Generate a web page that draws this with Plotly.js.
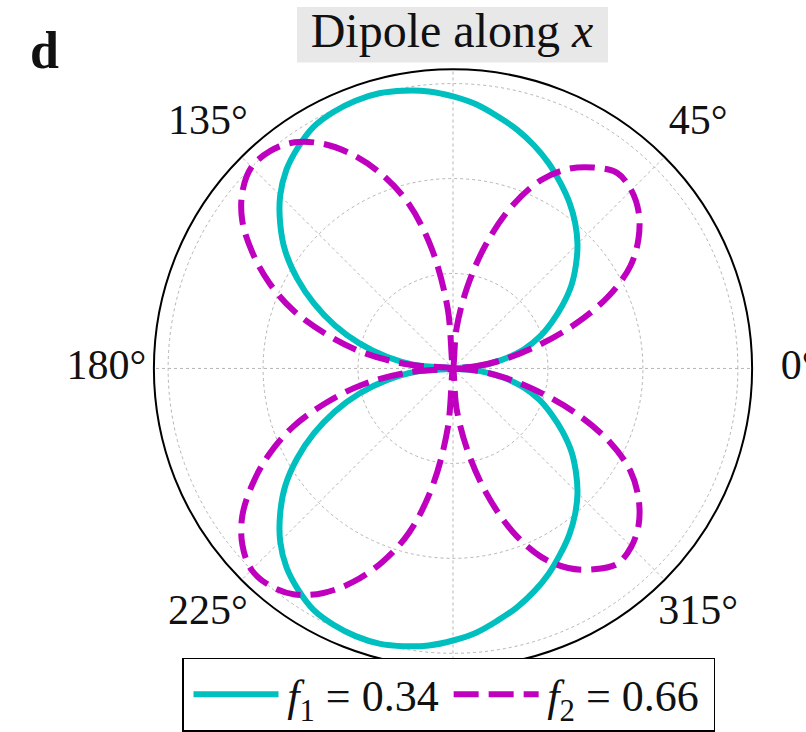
<!DOCTYPE html>
<html>
<head>
<meta charset="utf-8">
<script src="https://cdn.plot.ly/plotly-3.0.1.min.js"></script>
<style>
  html, body { margin: 0; padding: 0; background: #ffffff; }
  #plot { width: 806px; height: 732px; }
</style>
</head>
<body>
<div id="plot"></div>
<script>
// Polar angle in degrees, counter-clockwise from the +x direction
const thetaDeg = [
  0, 5, 10, 15, 20, 25, 30, 35, 40, 45, 50, 55, 60, 65, 70, 75, 80, 85,
  90, 95, 100, 105, 110, 115, 120, 125, 130, 135, 140, 145, 150, 155, 160, 165, 170, 175,
  180, 185, 190, 195, 200, 205, 210, 215, 220, 225, 230, 235, 240, 245, 250, 255, 260, 265,
  270, 275, 280, 285, 290, 295, 300, 305, 310, 315, 320, 325, 330, 335, 340, 345, 350, 355,
  360
];

// Normalised emission pattern, fraction f1
const patternF1 = [
  0.000, 0.087, 0.174, 0.257, 0.323, 0.382, 0.444, 0.507, 0.563, 0.618, 0.667, 0.712, 0.753, 0.795, 0.833, 0.868, 0.899, 0.931,
  0.955, 0.976, 0.990, 1.000, 1.000, 0.993, 0.979, 0.948, 0.910, 0.858, 0.792, 0.719, 0.632, 0.538, 0.441, 0.340, 0.236, 0.132,
  0.000, 0.132, 0.236, 0.340, 0.441, 0.538, 0.632, 0.719, 0.792, 0.858, 0.910, 0.948, 0.979, 0.993, 1.000, 1.000, 0.990, 0.976,
  0.955, 0.931, 0.899, 0.868, 0.833, 0.795, 0.753, 0.712, 0.667, 0.618, 0.563, 0.507, 0.444, 0.382, 0.323, 0.257, 0.174, 0.087,
  0.000
];

// Normalised emission pattern, fraction f2
const patternF2 = [
  0.000, 0.076, 0.181, 0.306, 0.458, 0.604, 0.719, 0.795, 0.851, 0.885, 0.896, 0.861, 0.809, 0.729, 0.608, 0.455, 0.292, 0.139,
  0.000, 0.208, 0.424, 0.597, 0.722, 0.826, 0.910, 0.969, 0.997, 1.000, 0.965, 0.903, 0.813, 0.712, 0.597, 0.458, 0.319, 0.156,
  0.000, 0.156, 0.319, 0.458, 0.597, 0.712, 0.813, 0.903, 0.965, 1.000, 0.997, 0.969, 0.910, 0.826, 0.722, 0.597, 0.424, 0.208,
  0.000, 0.139, 0.292, 0.455, 0.608, 0.729, 0.809, 0.861, 0.896, 0.885, 0.851, 0.795, 0.719, 0.604, 0.458, 0.306, 0.181, 0.076,
  0.000
];

const seriesNames = ['\u200A<i>f</i><sub>1</sub> = 0.34', '\u200A<i>f</i><sub>2</sub> = 0.66\u2009'];

// Angular tick labels (90° and 270° sit under the title and the legend)
const angleTicks = [0, 45, 90, 135, 180, 225, 270, 315];
const labelAngles = [0, 45, 135, 180, 225, 315];
const labelText = ['0°', '45°', '135°', '180°', '225°', '315°'];
const radialGrid = [1 / 3, 2 / 3, 1];

const serif = '"Liberation Serif", "Times New Roman", serif';
const W = 806, H = 732;
const cx = 453, cy = 372;
const R = 302;       // rim of the pattern plot
const RL = 350;      // ring on which the angular labels are centred
const rMax = 1.05;

function domainFor(radius) {
  return {
    x: [(cx - radius) / W, (cx + radius) / W],
    y: [(H - cy - radius) / H, (H - cy + radius) / H]
  };
}

const traces = [
  {
    type: 'scatterpolar',
    subplot: 'polar',
    mode: 'lines',
    name: seriesNames[0],
    theta: thetaDeg,
    r: patternF1,
    line: { color: '#00bfbf', width: 6, shape: 'spline', smoothing: 1 },
    hoverinfo: 'skip'
  },
  {
    type: 'scatterpolar',
    subplot: 'polar',
    mode: 'lines',
    name: seriesNames[1],
    theta: thetaDeg,
    r: patternF2,
    line: { color: '#bf00bf', width: 6, dash: '25px,10px', shape: 'spline', smoothing: 1 },
    hoverinfo: 'skip'
  },
  {
    // angle labels on a concentric, invisible label ring
    type: 'scatterpolar',
    subplot: 'polar2',
    mode: 'text',
    theta: labelAngles,
    r: labelAngles.map(() => 1),
    text: labelText,
    textposition: 'middle center',
    textfont: { family: serif, size: 42, color: '#111111' },
    cliponaxis: false,
    showlegend: false,
    hoverinfo: 'skip'
  }
];

const hiddenAxis = {
  showline: false, showgrid: false, showticklabels: false, ticks: ''
};

const layout = {
  width: W,
  height: H,
  margin: { l: 0, r: 0, t: 0, b: 0, pad: 0 },
  paper_bgcolor: '#ffffff',
  font: { family: serif, color: '#111111' },
  title: {
    text: 'Dipole along <i>x</i>',
    font: { family: serif, size: 48, color: '#111111' },
    x: 452 / W,
    xanchor: 'center',
    xref: 'paper',
    y: 1 - 30 / H,
    yanchor: 'middle',
    yref: 'container'
  },
  polar: {
    domain: domainFor(R),
    bgcolor: '#ffffff',
    radialaxis: {
      range: [0, rMax],
      tickvals: radialGrid,
      showticklabels: false,
      ticks: '',
      showline: false,
      gridcolor: '#b5b5b5',
      gridwidth: 1,
      griddash: '3px,3px'
    },
    angularaxis: {
      rotation: 0,
      direction: 'counterclockwise',
      tickmode: 'array',
      tickvals: angleTicks,
      showticklabels: false,
      ticks: '',
      showline: true,
      linecolor: '#000000',
      linewidth: 2,
      gridcolor: '#b5b5b5',
      gridwidth: 1,
      griddash: '3px,3px'
    }
  },
  polar2: {
    domain: domainFor(RL),
    bgcolor: 'rgba(0,0,0,0)',
    radialaxis: Object.assign({ range: [0, 1] }, hiddenAxis),
    angularaxis: Object.assign({ rotation: 0, direction: 'counterclockwise' }, hiddenAxis)
  },
  showlegend: true,
  legend: {
    orientation: 'h',
    x: 182 / W,
    xanchor: 'left',
    y: 1 - 664 / H,
    yanchor: 'top',
    bgcolor: '#ffffff',
    bordercolor: '#000000',
    borderwidth: 1.5,
    itemwidth: 85,
    indentation: 5,
    font: { family: serif, size: 44, color: '#111111' }
  },
  shapes: [
    {
      type: 'rect',
      xref: 'paper', yref: 'paper',
      x0: 297 / W, x1: 608 / W,
      y0: 1 - 63 / H, y1: 1 - 7 / H,
      fillcolor: '#e8e8e8',
      line: { width: 0 },
      layer: 'above'
    }
  ],
  annotations: [
    {
      text: '<b>d</b>',
      xref: 'paper', yref: 'paper',
      x: 28 / W, xanchor: 'left',
      y: 1 - 51 / H, yanchor: 'middle',
      showarrow: false,
      font: { family: serif, size: 52, color: '#111111' }
    }
  ]
};

Plotly.newPlot('plot', traces, layout, { staticPlot: true, displayModeBar: false });
</script>
</body>
</html>
